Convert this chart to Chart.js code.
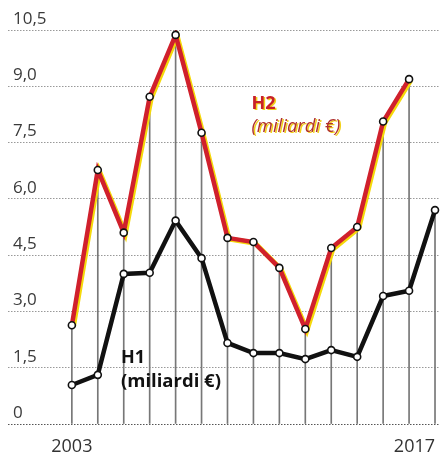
<!DOCTYPE html>
<html>
<head>
<meta charset="utf-8">
<script src="https://cdn.jsdelivr.net/npm/chart.js@4"></script>
<style>
  body { margin: 0; background: #fff; }
  canvas { display: block; }
</style>
</head>
<body>
<canvas id="chart" width="440" height="456"></canvas>
<script>
// anni e valori (miliardi di euro)
const years = [2003, 2004, 2005, 2006, 2007, 2008, 2009, 2010, 2011, 2012, 2013, 2014, 2015, 2016, 2017];
const h2 = [2.63, 6.77, 5.1, 8.72, 10.37, 7.76, 4.96, 4.85, 4.16, 2.53, 4.69, 5.25, 8.06, 9.19, null];
const h1 = [1.04, 1.31, 4.0, 4.03, 5.42, 4.42, 2.16, 1.89, 1.89, 1.73, 1.97, 1.79, 3.41, 3.55, 5.7];
const yTicks = [0, 1.5, 3.0, 4.5, 6.0, 7.5, 9.0, 10.5];

const pts = arr => years.map((x, i) => ({ x: x, y: arr[i] }));
// linee verticali fino al punto più alto di ogni anno
const drops = years.map((x, i) => ({ x: x, y: Math.max(h1[i], h2[i] == null ? 0 : h2[i]) }));

// sposta un dataset di qualche pixel (ombra gialla della linea H2)
const shiftPlugin = {
    id: 'shift',
    beforeDatasetDraw(chart, args) {
        const ds = chart.data.datasets[args.index];
        if (ds.shift) {
            chart.ctx.save();
            chart.ctx.translate(ds.shift[0], ds.shift[1]);
        }
    },
    afterDatasetDraw(chart, args) {
        if (chart.data.datasets[args.index].shift) chart.ctx.restore();
    }
};

// etichette H1 / H2
const labelsPlugin = {
    id: 'labels',
    afterDraw(chart) {
        const ctx = chart.ctx;
        ctx.save();
        ctx.textBaseline = 'middle';
        ctx.textAlign = 'left';

        ctx.font = 'bold 18px "Open Sans"';
        ctx.fillStyle = '#f2d21a';
        ctx.fillText('H2', 253, 105);
        ctx.fillStyle = '#c8202a';
        ctx.fillText('H2', 251.5, 104);

        ctx.font = 'italic 18.5px "Open Sans"';
        ctx.fillStyle = '#f2d21a';
        ctx.fillText('(miliardi €)', 253, 128);
        ctx.fillStyle = '#b0302e';
        ctx.fillText('(miliardi €)', 251.5, 127);

        ctx.fillStyle = '#111';
        ctx.font = 'bold 18px "Open Sans"';
        ctx.fillText('H1', 121, 358);
        ctx.font = 'bold 18.5px "Open Sans"';
        ctx.fillText('(miliardi €)', 121, 382);
        ctx.restore();
    }
};

const ctx = document.getElementById('chart').getContext('2d');
new Chart(ctx, {
    type: 'line',
    data: {
        datasets: [
            {
                type: 'bar',
                data: drops,
                backgroundColor: '#777',
                barThickness: 1,
                order: 5
            },
            {
                data: pts(h2),
                borderColor: '#f5d90a',
                borderWidth: 5,
                pointRadius: 0,
                shift: [1.6, 1.2],
                order: 4
            },
            {
                data: pts(h2),
                borderColor: '#d0202c',
                borderWidth: 4.5,
                pointRadius: 3.5,
                pointBorderWidth: 1.6,
                pointBackgroundColor: '#fff',
                pointBorderColor: '#111',
                order: 3
            },
            {
                data: pts(h1),
                borderColor: '#111',
                borderWidth: 4.5,
                pointRadius: 3.5,
                pointBorderWidth: 1.6,
                pointBackgroundColor: '#fff',
                pointBorderColor: '#111',
                order: 1
            }
        ]
    },
    options: {
        responsive: false,
        animation: false,
        layout: { autoPadding: false, padding: { top: 30, left: -2, right: 0, bottom: -14 } },
        plugins: {
            legend: { display: false },
            tooltip: { enabled: false }
        },
        elements: { line: { tension: 0 } },
        scales: {
            x: {
                type: 'linear',
                offset: false,
                min: 2003 - 64 / 26,
                max: 2017 + 5 / 26,
                afterBuildTicks: axis => {
                    axis.ticks = [{ value: axis.min }, { value: years[0] }, { value: years[years.length - 1] }];
                },
                grid: { display: false, drawTicks: false },
                border: { display: false },
                ticks: {
                    align: 'inner',
                    autoSkip: false,
                    maxRotation: 0,
                    padding: 0,
                    color: '#333',
                    font: { family: '"Open Sans"', size: 18, lineHeight: 46 / 18 },
                    callback: v => (v === years[0] || v === years[years.length - 1]) ? String(v) : ''
                }
            },
            y: {
                min: 0,
                max: 10.5,
                afterBuildTicks: axis => { axis.ticks = yTicks.map(v => ({ value: v })); },
                grid: {
                    drawTicks: false,
                    color: c => c.tick && c.tick.value === 0 ? '#555' : '#999',
                    lineWidth: 1
                },
                border: { display: false, dash: [1.5, 1.5] },
                ticks: {
                    mirror: true,
                    padding: 5,
                    labelOffset: -11,
                    color: '#3a3a3a',
                    font: { family: '"Open Sans"', size: 17 },
                    callback: v => v === 0 ? '0' : v.toFixed(1).replace('.', ',')
                }
            }
        }
    },
    plugins: [shiftPlugin, labelsPlugin]
});
</script>
</body>
</html>
